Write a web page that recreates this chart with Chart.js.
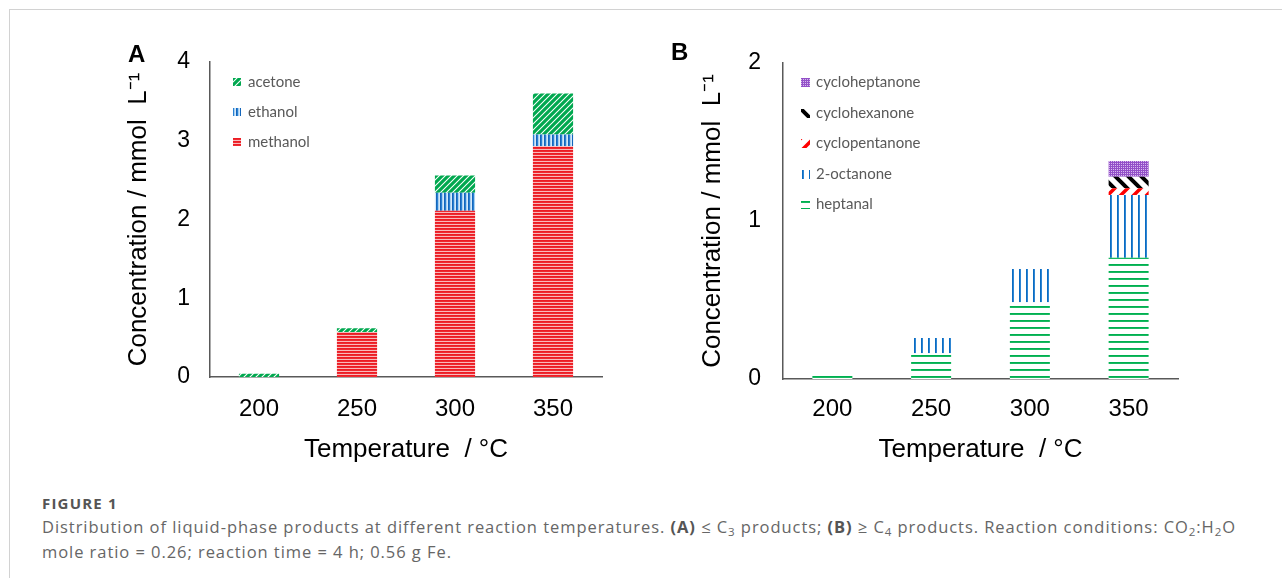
<!DOCTYPE html>
<html><head><meta charset="utf-8">
<script src="https://cdn.jsdelivr.net/npm/chart.js@4.4.0/dist/chart.umd.min.js"></script>
<style>
html,body{margin:0;padding:0;background:#fff;width:1282px;height:578px;overflow:hidden;position:relative;}
#frame{position:absolute;left:9px;top:9px;width:1290px;height:600px;border-top:1px solid #d2d2d2;border-left:1px solid #d2d2d2;}
.wrap{position:absolute;top:0;}
#wrapA{left:0;width:640px;height:480px;}
#wrapB{left:640px;width:642px;height:480px;}
.letter{position:absolute;font:bold 24px "Liberation Sans",Arial,sans-serif;color:#000;line-height:24px;}
#caption{position:absolute;left:42px;top:494px;white-space:nowrap;font-family:"Open Sans",Lato,sans-serif;}
#caption .fig{font-size:15px;font-weight:bold;color:#555;line-height:18px;letter-spacing:1.2px;}
#caption .txt{font-size:16.5px;color:#666;line-height:25px;margin-top:2px;}
#caption .txt b{color:#555;}
#caption sub{font-size:70%;vertical-align:baseline;position:relative;top:0.3em;line-height:0;}
</style></head>
<body>
<div id="frame"></div>
<div class="wrap" id="wrapA"><canvas id="chartA" width="640" height="480"></canvas></div>
<div class="wrap" id="wrapB"><canvas id="chartB" width="642" height="480"></canvas></div>
<div class="letter" style="left:128px;top:42px;">A</div>
<div class="letter" style="left:671px;top:40px;">B</div>
<div id="caption">
<div class="fig">FIGURE 1</div>
<div class="txt"><span id="line1">Distribution of liquid-phase products at different reaction temperatures. <b>(A)</b> ≤ C<sub>3</sub> products; <b>(B)</b> ≥ C<sub>4</sub> products. Reaction conditions: CO<sub>2</sub>:H<sub>2</sub>O</span><br>mole ratio = 0.26; reaction time = 4 h; 0.56 g Fe.</div>
</div>
<script>
// ---- Data ----
const temperatures = ['200', '250', '300', '350'];
// Panel A (mmol/L)
const methanol = [0, 0.57, 2.11, 2.93];
const ethanol  = [0, 0, 0.23, 0.15];
const acetone  = [0.04, 0.05, 0.22, 0.52];
// Panel B (mmol/L)
const heptanal       = [0.025, 0.163, 0.485, 0.768];
const octanone2      = [0, 0.097, 0.211, 0.397];
const cyclopentanone = [0, 0, 0, 0.042];
const cyclohexanone  = [0, 0, 0, 0.073];
const cycloheptanone = [0, 0, 0, 0.10];
const yTicksA = [0, 1, 2, 3, 4];
const yTicksB = [0, 1, 2];

// ---- caption width fit (style only) ----
(function () {
  const line = document.getElementById('line1');
  const txt = line.parentNode;
  const w = line.getBoundingClientRect().width;
  const n = line.textContent.length;
  const ls = (1194 - w) / n;
  txt.style.letterSpacing = ls.toFixed(3) + 'px';
})();

// ---- Patterns ----
function makePattern(w, h, draw) {
  const c = document.createElement('canvas');
  c.width = w; c.height = h;
  const g = c.getContext('2d');
  draw(g, w, h);
  return document.createElement('canvas').getContext('2d').createPattern(c, 'repeat');
}
function hStripes(rows) {
  return makePattern(1, rows.length, (g) => rows.forEach((col, i) => { g.fillStyle = col; g.fillRect(0, i, 1, 1); }));
}
function vStripes(cols) {
  return makePattern(cols.length, 1, (g) => cols.forEach((col, i) => { g.fillStyle = col; g.fillRect(i, 0, 1, 1); }));
}
function diag(p, lw, color, bg, dir) {
  return makePattern(p, p, (g) => {
    g.fillStyle = bg; g.fillRect(0, 0, p, p);
    g.strokeStyle = color; g.lineWidth = lw; g.lineCap = 'square';
    g.beginPath();
    if (dir === '/') {
      g.moveTo(-p / 2, p / 2); g.lineTo(p / 2, -p / 2);
      g.moveTo(0, p); g.lineTo(p, 0);
      g.moveTo(p / 2, p * 1.5); g.lineTo(p * 1.5, p / 2);
    } else {
      g.moveTo(0, 0); g.lineTo(p, p);
      g.moveTo(-p / 2, p / 2); g.lineTo(p / 2, p * 1.5);
      g.moveTo(p / 2, -p / 2); g.lineTo(p * 1.5, p / 2);
    }
    g.stroke();
  });
}
const W = '#ffffff';
const patMethanol = hStripes(['#ec1c24', '#ee2a31', '#f9b9bb']);
const patEthanol  = vStripes(['#1466bb', '#2a80d2', '#a6cff1', '#d4e8f9']);
const patAcetone  = diag(6, 3.2, '#00a84f', W, '/');
const patHeptanal = hStripes([W, W, W, W, W, '#00b050', '#18b860']);
const patOctanone = vStripes([W, '#0b6cc2', '#2f86d3', W, W, W, W]);
const patCyclopent = diag(13, 3.5, '#ff0000', W, '/');
const patCyclohex  = diag(13, 4, '#000000', W, '\\');
const patCyclohept = makePattern(2, 2, (g) => {
  g.fillStyle = '#9350c8'; g.fillRect(0, 0, 2, 2);
  g.fillStyle = '#d7bbef'; g.fillRect(1, 1, 1, 1);
});

// ---- Plugin: legend inside plot area ----
const insideLegend = {
  id: 'insideLegend',
  afterDraw(chart, args, o) {
    const { ctx, chartArea: a } = chart;
    const items = chart.data.datasets.map(d => ({ label: d.label, fill: d.backgroundColor })).reverse();
    ctx.save();
    ctx.font = o.font; ctx.textBaseline = 'middle'; ctx.textAlign = 'left';
    items.forEach((it, i) => {
      const y = Math.round(a.top + o.top + i * o.spacing);
      const x = Math.round(a.left + o.left);
      ctx.fillStyle = it.fill;
      ctx.fillRect(x, y - Math.floor(o.box / 2), o.box, o.box);
      ctx.fillStyle = o.color;
      ctx.fillText(it.label, x + o.textGap, y);
    });
    ctx.restore();
  }
};

const AXIS_FONT = '"Liberation Sans", Arial, sans-serif';

function buildChart(id, datasets, yMax, yTicks, cfg) {
  return new Chart(document.getElementById(id), {
    type: 'bar',
    data: { labels: temperatures, datasets },
    plugins: [insideLegend],
    options: {
      responsive: false,
      animation: false,
      devicePixelRatio: 1,
      layout: { padding: cfg.padding },
      datasets: { bar: { categoryPercentage: 1, barPercentage: cfg.barPct, borderWidth: 0 } },
      plugins: {
        legend: { display: false },
        tooltip: { enabled: false },
        insideLegend: cfg.legend
      },
      scales: {
        x: {
          stacked: true,
          grid: { display: false, drawTicks: false },
          border: { display: true, color: '#595959', width: 1.5 },
          ticks: { color: '#000', font: { family: AXIS_FONT, size: 24 }, padding: cfg.xTickPad },
          title: { display: true, text: 'Temperature  / °C', color: '#000', font: { family: AXIS_FONT, size: 26 }, padding: { top: 0, bottom: 0 } },
          afterFit(s) { s.height = cfg.xHeight; s.paddingLeft = 0; s.paddingRight = 0; }
        },
        y: {
          stacked: true,
          min: 0, max: yMax,
          grid: { display: false, drawTicks: false },
          border: { display: true, color: '#595959', width: 1.5 },
          afterBuildTicks(s) { s.ticks = yTicks.map(v => ({ value: v })); },
          ticks: { color: '#000', font: { family: AXIS_FONT, size: 23 }, padding: cfg.yTickPad },
          title: { display: true, text: 'Concentration / mmol  L⁻¹', color: '#000', font: { family: AXIS_FONT, size: 26 }, padding: { top: 0, bottom: 0 } },
          afterFit(s) { s.width = cfg.yWidth; s.paddingTop = 0; s.paddingBottom = 0; }
        }
      }
    }
  });
}

buildChart('chartA', [
  { label: 'methanol', data: methanol, backgroundColor: patMethanol },
  { label: 'ethanol', data: ethanol, backgroundColor: patEthanol },
  { label: 'acetone', data: acetone, backgroundColor: patAcetone }
], 4, yTicksA, {
  padding: { left: 123, top: 62, right: 38, bottom: 15 },
  yWidth: 87, xHeight: 88, xTickPad: 18, yTickPad: 20, barPct: 0.41,
  legend: { font: '15px Lato, "Open Sans", sans-serif', color: '#595959', top: 20, left: 23, spacing: 30, box: 8, textGap: 15 }
});

buildChart('chartB', [
  { label: 'heptanal', data: heptanal, backgroundColor: patHeptanal },
  { label: '2-octanone', data: octanone2, backgroundColor: patOctanone },
  { label: 'cyclopentanone', data: cyclopentanone, backgroundColor: patCyclopent },
  { label: 'cyclohexanone', data: cyclohexanone, backgroundColor: patCyclohex },
  { label: 'cycloheptanone', data: cycloheptanone, backgroundColor: patCyclohept }
], 2, yTicksB, {
  padding: { left: 57, top: 63, right: 104, bottom: 15 },
  yWidth: 86, xHeight: 86, xTickPad: 16, yTickPad: 22, barPct: 0.405,
  legend: { font: '15px Lato, "Open Sans", sans-serif', color: '#595959', top: 19, left: 18, spacing: 30.6, box: 9, textGap: 15 }
});
</script>
</body></html>
